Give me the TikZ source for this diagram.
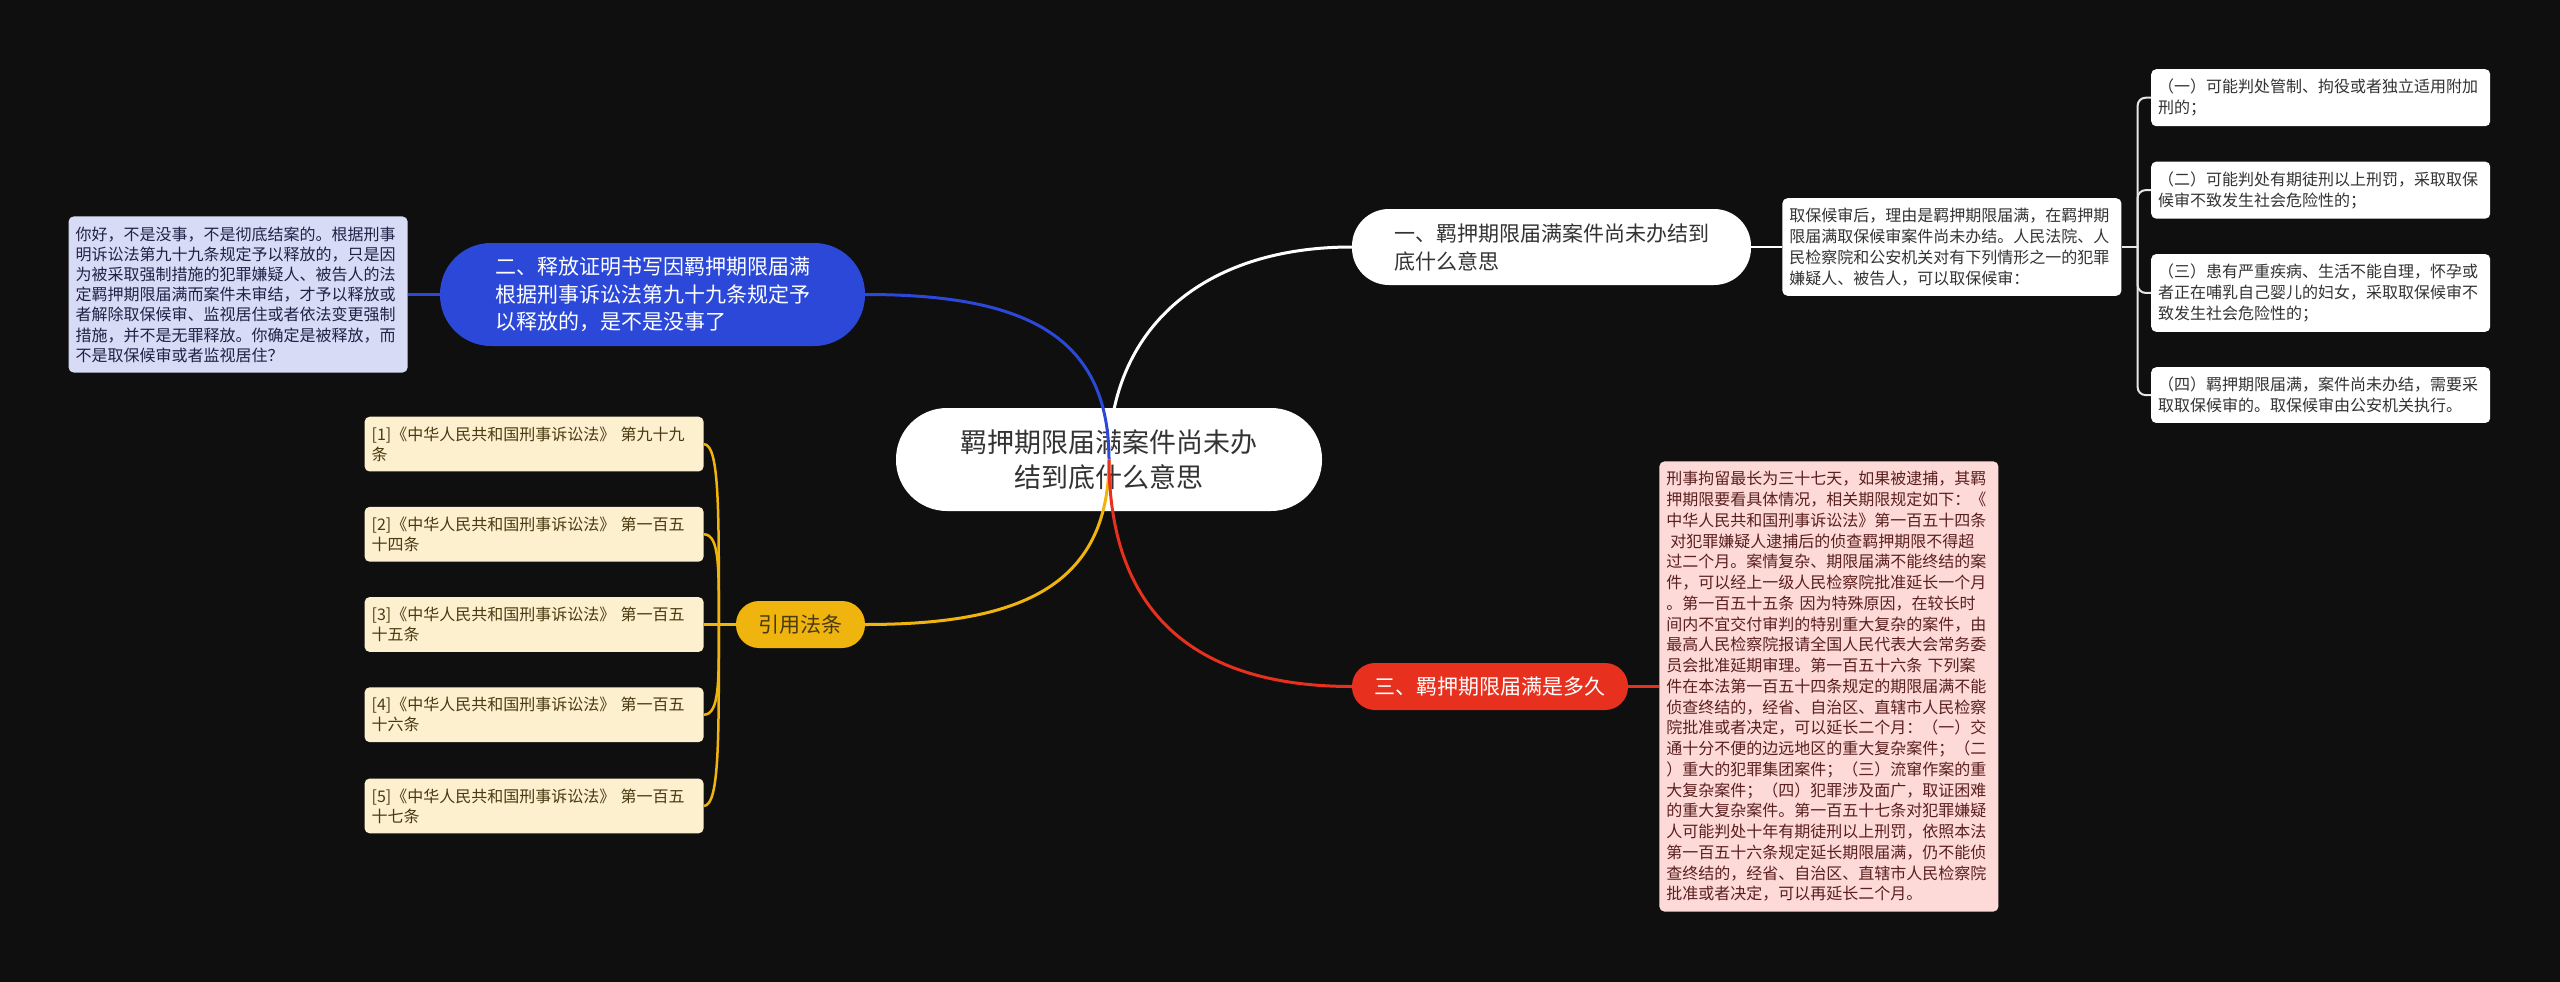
\documentclass[tikz,border=0pt]{standalone}
\usepackage{fontspec}
\setmainfont{Noto Sans CJK SC}
\usetikzlibrary{positioning}
\definecolor{mapBg}{HTML}{0F0F0F}
\definecolor{mapInk}{HTML}{333333}
\definecolor{mapLine}{HTML}{E6E6E6}
\definecolor{mapBlue}{HTML}{2B48D8}
\definecolor{mapLavender}{HTML}{D7DBF6}
\definecolor{mapLavInk}{HTML}{1F2245}
\definecolor{mapYellow}{HTML}{F0B40F}
\definecolor{mapCream}{HTML}{FCF0CF}
\definecolor{mapCreamInk}{HTML}{4A3A10}
\definecolor{mapRed}{HTML}{E8301E}
\definecolor{mapPink}{HTML}{FDDAD7}
\definecolor{mapPinkInk}{HTML}{5A1F1F}

\begin{document}
\begin{tikzpicture}[x=1pt,y=-1pt,
  node distance=35pt,
  topic/.style={fill=white,text=mapInk,rounded corners=51pt,minimum width=426pt,minimum height=103pt,align=center,font=\fontsize{27}{35}\selectfont},
  branch/.style={rounded corners=23pt,minimum height=47pt,align=left,font=\fontsize{21}{28}\selectfont},
  leaf/.style={rounded corners=5pt,text width=325pt,inner xsep=7pt,inner ysep=10pt,align=left,font=\fontsize{16}{20.75}\selectfont},
  whiteleaf/.style={leaf,fill=white,text=mapInk},
  lawleaf/.style={leaf,fill=mapCream,text=mapCreamInk,font=\fontsize{16}{20}\selectfont},
  link/.style={line width=2.5pt},
  curve/.style={line width=3pt}]
  \fill[mapBg] (0,0) rectangle (2560,982);
  \useasboundingbox (0,0) rectangle (2560,982);
  \node[topic] (main) at (1109,459.5) {羁押期限届满案件尚未办\\结到底什么意思};
  \node[branch,fill=white,text=mapInk,minimum width=399pt,minimum height=76pt,rounded corners=37pt] (q1) at (1551.5,247) {一、羁押期限届满案件尚未办结到\\底什么意思};
  \node[whiteleaf,right=31pt of q1] (q1d) {取保候审后，理由是羁押期限届满，在羁押期\\限届满取保候审案件尚未办结。人民法院、人\\民检察院和公安机关对有下列情形之一的犯罪\\嫌疑人、被告人，可以取保候审：};
  \node[whiteleaf,anchor=north west] (c1) at (2151,69) {（一）可能判处管制、拘役或者独立适用附加\\刑的；};
  \node[whiteleaf,below=of c1] (c2) {（二）可能判处有期徒刑以上刑罚，采取取保\\候审不致发生社会危险性的；};
  \node[whiteleaf,below=of c2] (c3) {（三）患有严重疾病、生活不能自理，怀孕或\\者正在哺乳自己婴儿的妇女，采取取保候审不\\致发生社会危险性的；};
  \node[whiteleaf,below=of c3] (c4) {（四）羁押期限届满，案件尚未办结，需要采\\取取保候审的。取保候审由公安机关执行。};
  \node[branch,fill=mapBlue,text=white,minimum width=425pt,minimum height=103pt,rounded corners=51pt,font=\fontsize{21}{27.5}\selectfont] (q2) at (652.5,294.5) {二、释放证明书写因羁押期限届满\\根据刑事诉讼法第九十九条规定予\\以释放的，是不是没事了};
  \node[leaf,fill=mapLavender,text=mapLavInk,left=32pt of q2,font=\fontsize{16}{20.2}\selectfont] (q2d) {你好，不是没事，不是彻底结案的。根据刑事\\明诉讼法第九十九条规定予以释放的，只是因\\为被采取强制措施的犯罪嫌疑人、被告人的法\\定羁押期限届满而案件未审结，才予以释放或\\者解除取保候审、监视居住或者依法变更强制\\措施，并不是无罪释放。你确定是被释放，而\\不是取保候审或者监视居住？};
  \node[branch,fill=mapYellow,text=mapCreamInk,minimum width=129pt] (cite) at (800.5,624.5) {引用法条};
  \node[lawleaf,left=32pt of cite] (law3) {[3]《中华人民共和国刑事诉讼法》 第一百五\\十五条};
  \node[lawleaf,above=of law3] (law2) {[2]《中华人民共和国刑事诉讼法》 第一百五\\十四条};
  \node[lawleaf,above=of law2] (law1) {[1]《中华人民共和国刑事诉讼法》 第九十九\\条};
  \node[lawleaf,below=of law3] (law4) {[4]《中华人民共和国刑事诉讼法》 第一百五\\十六条};
  \node[lawleaf,below=36pt of law4] (law5) {[5]《中华人民共和国刑事诉讼法》 第一百五\\十七条};
  \node[branch,fill=mapRed,text=white,minimum width=276pt] (q3) at (1490,686.5) {三、羁押期限届满是多久};
  \node[leaf,fill=mapPink,text=mapPinkInk,right=31pt of q3] (q3d) {刑事拘留最长为三十七天，如果被逮捕，其羁\\押期限要看具体情况，相关期限规定如下：《\\中华人民共和国刑事诉讼法》第一百五十四条\\\hspace*{4pt}对犯罪嫌疑人逮捕后的侦查羁押期限不得超\\过二个月。案情复杂、期限届满不能终结的案\\件，可以经上一级人民检察院批准延长一个月\\。第一百五十五条 因为特殊原因，在较长时\\间内不宜交付审判的特别重大复杂的案件，由\\最高人民检察院报请全国人民代表大会常务委\\员会批准延期审理。第一百五十六条 下列案\\件在本法第一百五十四条规定的期限届满不能\\侦查终结的，经省、自治区、直辖市人民检察\\院批准或者决定，可以延长二个月：（一）交\\通十分不便的边远地区的重大复杂案件；（二\\）重大的犯罪集团案件；（三）流窜作案的重\\大复杂案件；（四）犯罪涉及面广，取证困难\\的重大复杂案件。第一百五十七条对犯罪嫌疑\\人可能判处十年有期徒刑以上刑罚，依照本法\\第一百五十六条规定延长期限届满，仍不能侦\\查终结的，经省、自治区、直辖市人民检察院\\批准或者决定，可以再延长二个月。};
  \coordinate (fork1) at ([xshift=16pt]q1d.east);
  \coordinate (fork2) at ([xshift=-17pt]cite.west);
  \draw[link,white] (q1.east) -- (q1d.west);
  \draw[link,mapLine,line width=2pt] (q1d.east) -- (fork1);
  \draw[link,mapLine,line width=2pt,rounded corners=8pt] (fork1) |- (c1.west);
  \draw[link,mapLine,line width=2pt,rounded corners=8pt] (fork1) |- (c2.west);
  \draw[link,mapLine,line width=2pt,rounded corners=8pt] (fork1) |- (c3.west);
  \draw[link,mapLine,line width=2pt,rounded corners=8pt] (fork1) |- (c4.west);
  \draw[link,mapBlue] (q2d.east) -- (q2.west);
  \draw[link,mapRed] (q3.east) -- (q3d.west);
  \draw[link,mapYellow] (cite.west) -- (fork2);
  \draw[link,mapYellow] (fork2) -- (law3.east);
  \draw[link,mapYellow] (fork2) .. controls +(0,-110) and +(16,0) .. (law1.east);
  \draw[link,mapYellow] (fork2) .. controls +(0,-55) and +(16,0) .. (law2.east);
  \draw[link,mapYellow] (fork2) .. controls +(0,55) and +(16,0) .. (law4.east);
  \draw[link,mapYellow] (fork2) .. controls +(0,110) and +(16,0) .. (law5.east);
  \draw[curve,white] (main.center) .. controls +(0,-130) and +(-150,0) .. (q1.west);
  \draw[curve,mapBlue] (main.center) .. controls +(0,-130) and +(150,0) .. (q2.east);
  \draw[curve,mapYellow] (main.center) .. controls +(0,130) and +(150,0) .. (cite.east);
  \draw[curve,mapRed] (main.center) .. controls +(0,160) and +(-150,0) .. (q3.west);
\end{tikzpicture}
\end{document}
